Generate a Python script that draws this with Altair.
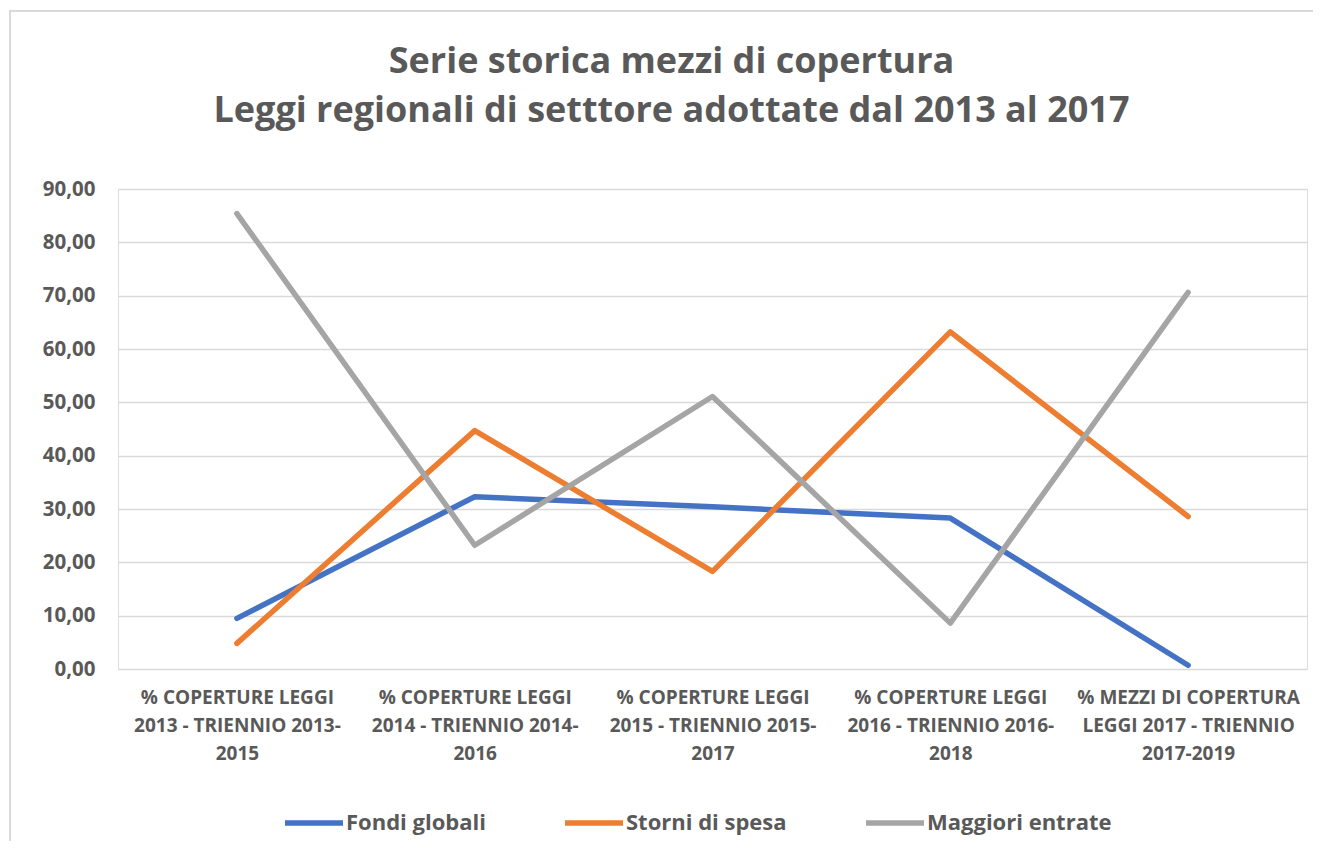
import altair as alt
import pandas as pd

categories = [
    "% COPERTURE LEGGI\n2013 - TRIENNIO 2013-\n2015",
    "% COPERTURE LEGGI\n2014 - TRIENNIO 2014-\n2016",
    "% COPERTURE LEGGI\n2015 - TRIENNIO 2015-\n2017",
    "% COPERTURE LEGGI\n2016 - TRIENNIO 2016-\n2018",
    "% MEZZI DI COPERTURA\nLEGGI 2017 - TRIENNIO\n2017-2019",
]
series_names = ["Fondi globali", "Storni di spesa", "Maggiori entrate"]
fondi_globali = [9.5, 32.3, 30.4, 28.3, 0.7]
storni_di_spesa = [4.8, 44.7, 18.3, 63.2, 28.6]
maggiori_entrate = [85.4, 23.2, 51.1, 8.6, 70.6]
colors = ["#4472C4", "#ED7D31", "#A5A5A5"]
title_lines = ["Serie storica mezzi di copertura",
               "Leggi regionali di setttore adottate dal 2013 al 2017"]

rows = []
for name, vals in zip(series_names, [fondi_globali, storni_di_spesa, maggiori_entrate]):
    for c, v in zip(categories, vals):
        rows.append({"categoria": c, "serie": name, "valore": v})
df = pd.DataFrame(rows)

FONT = "Open Sans"
TXT = "#595959"

x_enc = alt.X("categoria:N", sort=categories, title=None,
              scale=alt.Scale(padding=0.5),
              axis=alt.Axis(labelAngle=0, labelExpr="split(datum.label, '\\n')",
                            labelFont=FONT, labelFontWeight="bold", labelFontSize=19,
                            labelColor=TXT, labelLineHeight=28, labelPadding=19,
                            labelBaseline="top", labelLimit=400,
                            ticks=False, domain=False, grid=False))
y_enc = alt.Y("valore:Q", title=None,
              scale=alt.Scale(domain=[0, 90], nice=False),
              axis=alt.Axis(values=list(range(0, 100, 10)),
                            labelExpr="replace(format(datum.value, '.2f'), '.', ',')",
                            labelFont=FONT, labelFontWeight="bold", labelFontSize=20.5,
                            labelColor=TXT, labelPadding=23,
                            ticks=False, domain=False,
                            grid=True, gridColor="#D9D9D9", gridWidth=1.3))
color_enc = alt.Color("serie:N", scale=alt.Scale(domain=series_names, range=colors),
                      legend=alt.Legend(title=None, orient="none", direction="horizontal",
                                        legendX=164, legendY=602,
                                        symbolType="stroke", symbolSize=3364,
                                        symbolStrokeWidth=5.5, labelOffset=0,
                                        labelFont=FONT, labelFontWeight="bold",
                                        labelFontSize=22, labelColor=TXT,
                                        columnPadding=68, labelLimit=400))

border = alt.Chart(pd.DataFrame({"a": [0]})).mark_rect(
    fill=None, stroke="#D9D9D9", strokeWidth=2
).encode(x=alt.value(-108), x2=alt.value(1240), y=alt.value(-178), y2=alt.value(700))

layers = [border]
for name in series_names:
    layers.append(
        alt.Chart(df).transform_filter(alt.datum.serie == name)
        .mark_line(strokeWidth=5.5, strokeCap="round", strokeJoin="round")
        .encode(x=x_enc, y=y_enc, color=color_enc)
    )

chart = alt.layer(*layers).properties(
    width=1189, height=480,
    padding={"left": 110, "top": 181, "right": 6, "bottom": 172},
    autosize=alt.AutoSizeParams(type="none"),
    title=alt.TitleParams(text=title_lines, font=FONT, fontSize=36, fontWeight="bold",
                          color=TXT, anchor="middle", dx=-41, offset=-120, lineHeight=49),
).configure_view(stroke=None).configure(background="white")

chart.save("out.html", embed_options={"renderer": "svg", "actions": False})
